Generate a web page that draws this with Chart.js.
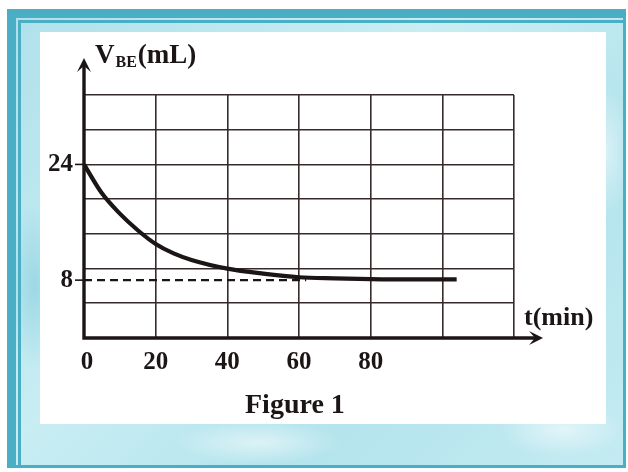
<!DOCTYPE html>
<html>
<head>
<meta charset="utf-8">
<script src="https://cdn.jsdelivr.net/npm/chart.js@4.4.1/dist/chart.umd.min.js"></script>
<style>
  html, body { margin: 0; padding: 0; background: #fff; }
  #page { position: relative; width: 628px; height: 472px; overflow: hidden; background: #fff; }
  #frame {
    position: absolute; left: 7px; top: 9px; width: 619px; height: 459px;
    box-sizing: border-box; border: 9px solid #4aaec4; border-right-width: 3px; border-bottom-width: 3px;
    background:
      radial-gradient(ellipse 90px 40px at 90% 92%, rgba(255,255,255,0.55), rgba(255,255,255,0) 70%),
      radial-gradient(ellipse 120px 30px at 40% 95%, rgba(255,255,255,0.5), rgba(255,255,255,0) 70%),
      radial-gradient(ellipse 40px 90px at 97% 30%, rgba(255,255,255,0.5), rgba(255,255,255,0) 70%),
      radial-gradient(ellipse 40px 120px at 3% 60%, rgba(120,200,215,0.5), rgba(120,200,215,0) 70%),
      linear-gradient(135deg, #b0e1eb, #c8edf3 40%, #b4e4ed 70%, #c4ebf2);
  }
  #frame::before {
    content: ""; position: absolute; left: 2px; top: 2px; right: 0; bottom: 0;
    border-left: 3px solid #4aaec4; border-top: 3px solid #4aaec4;
  }
  #inner { position: absolute; left: 40px; top: 32px; width: 566px; height: 392px; background: #fff; }
  #chart { position: absolute; left: 0; top: 0; }
</style>
</head>
<body>
<div id="page">
  <div id="frame"></div>
  <div id="inner"></div>
  <canvas id="chart" width="628" height="472"></canvas>
</div>
<script>
// values
const timeMin = [0, 5, 10, 15, 20, 25, 30, 40, 50, 60, 70, 80, 90, 104];
const volumeBE = [24, 20, 17.2, 14.9, 13, 11.7, 10.8, 9.6, 8.9, 8.4, 8.25, 8.15, 8.1, 8.1];
const dashedT = [0, 62];
const dashedV = [8, 8];

const xGrid = [0, 20, 40, 60, 80, 100, 120];
const yGrid = [0, 4.8, 9.6, 14.4, 19.2, 24, 28.8, 33.6];
const xTickLabels = [0, 20, 40, 60, 80];
const yTickLabels = [24, 8];

const xArrowEnd = 128.1;
const yArrowEnd = 38.7;

const ink = '#1c1515';
const gridInk = '#362a2a';
const serif = '"Liberation Serif", "DejaVu Serif", serif';

function arrowHead(ctx, tipX, tipY, dx, dy) {
  // dx, dy: unit direction of the arrow
  const len = 14, half = 7, notch = 8;
  const bx = tipX - dx * len, by = tipY - dy * len;
  const nx = tipX - dx * notch, ny = tipY - dy * notch;
  ctx.beginPath();
  ctx.moveTo(tipX, tipY);
  ctx.lineTo(bx - dy * half, by + dx * half);
  ctx.lineTo(nx, ny);
  ctx.lineTo(bx + dy * half, by - dx * half);
  ctx.closePath();
  ctx.fill();
}

const axesPlugin = {
  id: 'axesPlugin',
  afterDraw(chart) {
    const ctx = chart.ctx;
    const x = chart.scales.x;
    const y = chart.scales.y;
    const x0 = x.getPixelForValue(0);
    const y0 = y.getPixelForValue(0);
    const xEnd = x.getPixelForValue(xArrowEnd);
    const yEnd = y.getPixelForValue(yArrowEnd);

    ctx.save();
    ctx.strokeStyle = ink;
    ctx.fillStyle = ink;
    ctx.lineCap = 'butt';

    // axis lines
    ctx.lineWidth = 3.4;
    ctx.beginPath();
    ctx.moveTo(x0, y0 + 1.7);
    ctx.lineTo(x0, yEnd + 8);
    ctx.moveTo(x0 - 1.7, y0);
    ctx.lineTo(xEnd - 8, y0);
    ctx.stroke();

    arrowHead(ctx, x0, yEnd, 0, -1);
    arrowHead(ctx, xEnd, y0, 1, 0);

    // x tick labels
    ctx.font = 'bold 25px ' + serif;
    ctx.textBaseline = 'middle';
    ctx.textAlign = 'center';
    xTickLabels.forEach(v => {
      let px = x.getPixelForValue(v);
      if (v === 0) px += 3;
      ctx.fillText(String(v), px, 363);
    });

    // y tick labels with small marks
    ctx.textAlign = 'right';
    ctx.lineWidth = 1.6;
    yTickLabels.forEach(v => {
      const py = y.getPixelForValue(v);
      ctx.fillText(String(v), x0 - 11, py);
      ctx.beginPath();
      ctx.moveTo(x0 - 9, py);
      ctx.lineTo(x0, py);
      ctx.stroke();
    });

    // axis titles
    ctx.textAlign = 'left';
    ctx.textBaseline = 'alphabetic';
    let tx = 95;
    ctx.font = 'bold 27px ' + serif;
    ctx.fillText('V', tx, 63);
    tx += ctx.measureText('V').width + 1;
    ctx.font = 'bold 16px ' + serif;
    ctx.fillText('BE', tx, 67);
    tx += ctx.measureText('BE').width + 1;
    ctx.font = 'bold 27px ' + serif;
    ctx.fillText('(mL)', tx, 63);

    ctx.font = 'bold 26px ' + serif;
    ctx.fillText('t(min)', 524, 325);

    ctx.font = 'bold 28px ' + serif;
    ctx.fillText('Figure 1', 245, 413);
    ctx.restore();
  }
};

new Chart(document.getElementById('chart'), {
  type: 'line',
  data: {
    datasets: [
      {
        label: 'asymptote',
        data: dashedT.map((t, i) => ({ x: t, y: dashedV[i] })),
        borderColor: ink,
        borderWidth: 2.2,
        borderDash: [8, 5],
        pointRadius: 0,
        fill: false
      },
      {
        label: 'V_BE',
        data: timeMin.map((t, i) => ({ x: t, y: volumeBE[i] })),
        borderColor: ink,
        borderWidth: 4.2,
        pointRadius: 0,
        cubicInterpolationMode: 'monotone',
        fill: false
      }
    ]
  },
  options: {
    responsive: false,
    animation: false,
    devicePixelRatio: 1,
    layout: { padding: { left: 84, top: 95, right: 114, bottom: 134 } },
    plugins: { legend: { display: false }, tooltip: { enabled: false } },
    scales: {
      x: {
        type: 'linear', min: 0, max: 120,
        afterBuildTicks: s => { s.ticks = xGrid.map(v => ({ value: v })); },
        ticks: { display: false },
        border: { display: false },
        grid: { color: gridInk, lineWidth: 1.6, drawTicks: false }
      },
      y: {
        type: 'linear', min: 0, max: 33.6,
        afterBuildTicks: s => { s.ticks = yGrid.map(v => ({ value: v })); },
        ticks: { display: false },
        border: { display: false },
        grid: { color: gridInk, lineWidth: 1.6, drawTicks: false }
      }
    }
  },
  plugins: [axesPlugin]
});
</script>
</body>
</html>
